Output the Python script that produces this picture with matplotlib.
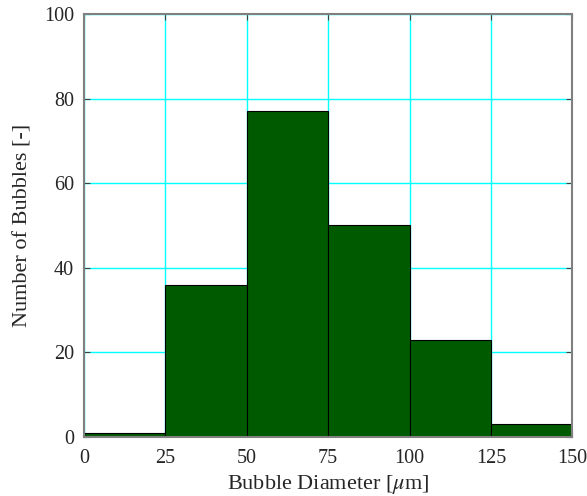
import matplotlib.pyplot as plt

plt.rcParams['font.family'] = ['Liberation Serif', 'DejaVu Serif']
plt.rcParams['mathtext.fontset'] = 'stix'

# histogram of bubble diameters
bin_edges = [0, 25, 50, 75, 100, 125, 150]
counts = [1, 36, 77, 50, 23, 3]

fig = plt.figure(figsize=(5.87, 4.96), dpi=100)
ax = fig.add_axes([0.143, 0.119, 0.832, 0.853])

lefts = bin_edges[:-1]
widths = [bin_edges[i + 1] - bin_edges[i] for i in range(len(counts))]
ax.bar(lefts, counts, width=widths, align='edge', color='#005a00',
       edgecolor='black', linewidth=0.8, zorder=3)

ax.set_xlim(0, 150)
ax.set_ylim(0, 100)
ax.set_xticks(bin_edges)
ax.set_yticks([0, 20, 40, 60, 80, 100])
ax.grid(True, color='cyan', linewidth=1.0, zorder=0)
ax.set_axisbelow(True)

for s in ax.spines.values():
    s.set_color('#808080')
    s.set_linewidth(1.5)
    s.set_zorder(4)
ax.tick_params(direction='in', top=True, right=True, color='#404040',
               length=4, labelsize=14.5, labelcolor='#262626')
ax.tick_params(axis='x', pad=9)
ax.tick_params(axis='y', pad=7)

ax.set_xlabel(r'Bubble Diameter [$\mu$m]', fontsize=16, labelpad=3, color='#262626')
ax.set_ylabel('Number of Bubbles [-]', fontsize=16, labelpad=8, color='#262626')

fig.savefig('out.png', dpi=100)
